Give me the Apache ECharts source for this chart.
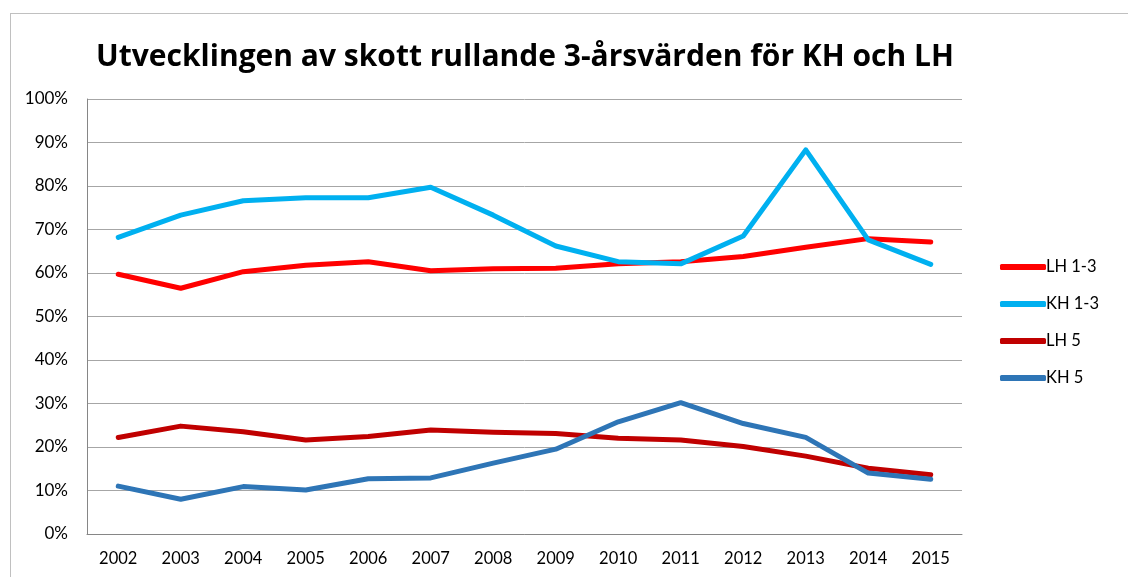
<!DOCTYPE html>
<html>
<head>
<meta charset="utf-8">
<script src="https://cdn.jsdelivr.net/npm/echarts@6/dist/echarts.min.js"></script>
<style>
  html, body { margin: 0; padding: 0; background: #fff; overflow: hidden; }
  #frame { position: absolute; left: 10px; top: 13px; width: 1300px; height: 700px; border: 1px solid #c0c0c0; }
  #chart { position: absolute; left: 0; top: 0; width: 1128px; height: 577px; }
</style>
</head>
<body>
<div id="frame"></div>
<div id="chart"></div>
<script>
// rullande 3-årsvärden, andel i procent
const years = ['2002', '2003', '2004', '2005', '2006', '2007', '2008', '2009', '2010', '2011', '2012', '2013', '2014', '2015']
const lh13 = [59.7, 56.5, 60.3, 61.8, 62.6, 60.5, 61.0, 61.1, 62.1, 62.6, 63.8, 65.9, 67.9, 67.1]
const kh13 = [68.2, 73.3, 76.6, 77.3, 77.3, 79.7, 73.3, 66.2, 62.6, 62.1, 68.5, 88.3, 67.6, 62.0]
const lh5 = [22.2, 24.8, 23.5, 21.6, 22.4, 23.9, 23.4, 23.1, 22.0, 21.6, 20.1, 17.9, 15.1, 13.6]
const kh5 = [11.0, 8.0, 10.9, 10.1, 12.7, 12.9, 16.3, 19.5, 25.8, 30.2, 25.4, 22.2, 14.0, 12.6]

const fontFamily = 'Lato, "Noto Sans", sans-serif'

const line = (name, data, color) => ({
  type: 'line',
  name,
  data,
  color,
  symbol: 'none',
  lineStyle: { width: 5, cap: 'round', join: 'round' },
  emphasis: { disabled: true },
})

const chart = echarts.init(document.getElementById('chart'))
chart.setOption({
  animation: false,
  textStyle: { fontFamily },
  title: {
    text: 'Utvecklingen av skott rullande 3-årsvärden för KH och LH',
    left: 520,
    textAlign: 'center',
    top: 37,
    textStyle: { fontSize: 30, fontWeight: 'bold', color: '#000', fontFamily: '"Open Sans", sans-serif' },
  },
  grid: { left: 87, right: 166, top: 99, bottom: 43 },
  legend: {
    orient: 'vertical',
    left: 995,
    top: 253,
    itemWidth: 46,
    itemHeight: 6,
    itemGap: 19,
    icon: 'roundRect',
    textStyle: { fontSize: 16.5, color: '#000', lineHeight: 18, padding: [0, 0, 0, -5] },
    data: ['LH 1-3', 'KH 1-3', 'LH 5', 'KH 5'],
  },
  xAxis: {
    type: 'category',
    data: years,
    boundaryGap: true,
    axisLine: { lineStyle: { color: '#868686', width: 1 } },
    axisTick: { show: false },
    axisLabel: { color: '#000', fontSize: 16.5, margin: 16 },
  },
  yAxis: {
    type: 'value',
    min: 0,
    max: 100,
    interval: 10,
    axisLine: { show: true, lineStyle: { color: '#868686', width: 1 } },
    axisTick: { show: false },
    splitLine: { lineStyle: { color: '#a6a6a6', width: 1 } },
    axisLabel: { color: '#000', fontSize: 17, margin: 19, formatter: '{value}%' },
  },
  series: [
    line('LH 1-3', lh13, '#ff0000'),
    line('KH 1-3', kh13, '#00b0f0'),
    line('LH 5', lh5, '#c00000'),
    line('KH 5', kh5, '#2e75b6'),
  ],
})
</script>
</body>
</html>
